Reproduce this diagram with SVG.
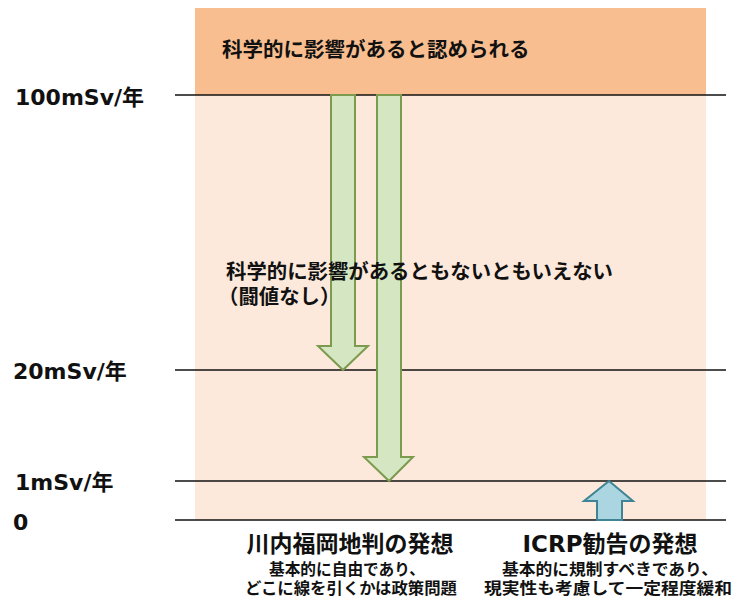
<svg xmlns="http://www.w3.org/2000/svg" width="734" height="601" viewBox="0 0 734 601">
<style>
.t{font-family:"DejaVu Sans","Noto Sans CJK JP",sans-serif;font-weight:bold;fill:#111}
.j{font-family:"Noto Sans CJK JP",sans-serif;font-weight:bold;fill:#111}
.lv{stroke:#111;stroke-width:1.5}
.g{fill:#D5E6C2;stroke:#7C9B4F;stroke-width:2}
.b{fill:#ABD5E0;stroke:#3F8494;stroke-width:2}
</style>
<rect width="734" height="601" fill="#fff"/>
<g id="zone-top"><rect x="195" y="8" width="511" height="87" fill="#F9BE90"/></g>
<g id="zone-main"><rect x="195" y="95" width="511" height="425" fill="#FDE9DC"/></g>
<g id="levels">
<line class="lv" x1="175" y1="95" x2="726" y2="95"/>
<line class="lv" x1="175" y1="370" x2="726" y2="370"/>
<line class="lv" x1="175" y1="481" x2="726" y2="481"/>
<line class="lv" x1="175" y1="520" x2="726" y2="520"/>
</g>
<g id="connectors">
<path class="g" d="M331,95 H355 V346 H368 L343,370 L318,346 H331 Z"/>
<path class="g" d="M377,95 H401 V457 H413 L389,481 L364,457 H377 Z"/>
<path class="b" d="M597,520 V501 H584 L609,481 L633,501 H622 V520 Z"/>
</g>
<g id="labels-left">
<text class="t" x="15" y="105" font-size="22">100mSv/年</text>
<text class="t" x="13" y="379" font-size="22">20mSv/年</text>
<text class="t" x="15" y="490" font-size="22">1mSv/年</text>
<text class="t" x="13" y="530" font-size="22">0</text>
</g>
<g id="text-top"><text class="j" x="222" y="57" font-size="20.5">科学的に影響があると認められる</text></g>
<g id="text-mid">
<text class="j" x="226" y="279" font-size="20.4">科学的に影響があるともないともいえない</text>
<text class="j" x="218" y="304" font-size="20.4">（闘値なし）</text>
</g>
<g id="text-sendai">
<text class="j" x="350" y="552" font-size="23" text-anchor="middle">川内福岡地判の発想</text>
<text class="j" x="347" y="575" font-size="16" text-anchor="middle" textLength="156" lengthAdjust="spacingAndGlyphs">基本的に自由であり、</text>
<text class="j" x="351" y="594" font-size="16" text-anchor="middle" textLength="212" lengthAdjust="spacingAndGlyphs">どこに線を引くかは政策問題</text>
</g>
<g id="text-icrp">
<text class="t" x="610" y="552" font-size="23" text-anchor="middle">ICRP勧告の発想</text>
<text class="j" x="610" y="575" font-size="16" text-anchor="middle" textLength="216" lengthAdjust="spacingAndGlyphs">基本的に規制すべきであり、</text>
<text class="j" x="608" y="594" font-size="16" text-anchor="middle" textLength="248" lengthAdjust="spacingAndGlyphs">現実性も考慮して一定程度緩和</text>
</g>
</svg>
